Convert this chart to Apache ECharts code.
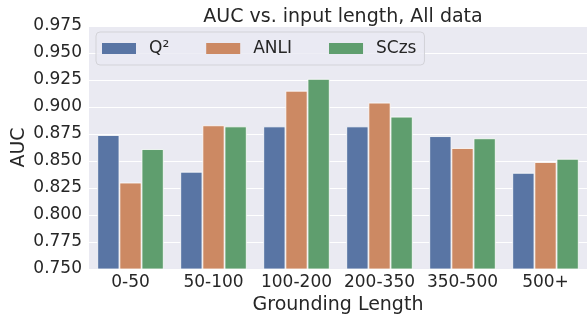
<!DOCTYPE html>
<html>
<head>
<meta charset="utf-8">
<script src="https://cdn.jsdelivr.net/npm/echarts@6/dist/echarts.min.js"></script>
<style>
  html, body { margin: 0; padding: 0; background: #fff; }
  #chart { width: 587px; height: 314px; }
</style>
</head>
<body>
<div id="chart"></div>
<script>
// data
var categories = ['0-50', '50-100', '100-200', '200-350', '350-500', '500+'];
var q2 = [0.874, 0.840, 0.882, 0.882, 0.873, 0.839];
var anli = [0.830, 0.883, 0.915, 0.904, 0.862, 0.849];
var sczs = [0.861, 0.882, 0.926, 0.891, 0.871, 0.852];

var textColor = '#262626';
var font = 'DejaVu Sans';

var bar = function(name, data, color) {
  return {
    name: name,
    type: 'bar',
    data: data,
    barGap: '0%',
    barCategoryGap: '20%',
    itemStyle: { color: color, borderColor: '#ffffff', borderWidth: 0.8 }
  };
};

var myChart = echarts.init(document.getElementById('chart'));
var option = {
  animation: false,
  backgroundColor: '#ffffff',
  textStyle: { fontFamily: font, color: textColor },
  title: {
    text: 'AUC vs. input length, All data',
    left: 338,
    textAlign: 'center',
    top: 3,
    textStyle: { fontFamily: font, fontSize: 19, fontWeight: 'normal', color: textColor }
  },
  legend: {
    left: 96,
    top: 32,
    padding: [8, 8, 8, 6],
    icon: 'rect',
    itemWidth: 34,
    itemHeight: 11,
    itemGap: 37,
    itemStyle: { borderWidth: 0 },
    backgroundColor: 'rgba(234,234,242,0.8)',
    borderColor: '#d3d3d8',
    borderWidth: 1,
    borderRadius: 4,
    textStyle: { fontFamily: font, fontSize: 17, color: textColor, padding: [0, 0, 0, 8] },
    data: ['Q²', 'ANLI', 'SCzs']
  },
  grid: {
    left: 89, right: 0, top: 26, bottom: 45,
    outerBoundsMode: 'none', containLabel: false,
    show: true, backgroundColor: '#EAEAF2', borderWidth: 0
  },
  xAxis: {
    type: 'category',
    data: categories,
    name: 'Grounding Length',
    nameLocation: 'middle',
    nameGap: 27,
    nameMoveOverlap: false,
    nameTextStyle: { fontFamily: font, fontSize: 19, color: textColor },
    axisLine: { show: false },
    axisTick: { show: false },
    axisLabel: { interval: 0, fontFamily: font, fontSize: 17, color: textColor, margin: 5 },
    splitLine: { show: false }
  },
  yAxis: {
    type: 'value',
    min: 0.75,
    max: 0.975,
    interval: 0.025,
    name: 'AUC',
    nameLocation: 'middle',
    nameGap: 60,
    nameMoveOverlap: false,
    nameTextStyle: { fontFamily: font, fontSize: 19, color: textColor },
    axisLine: { show: false },
    axisTick: { show: false },
    axisLabel: {
      fontFamily: font, fontSize: 17, color: textColor, margin: 7,
      formatter: function(v) { return v.toFixed(3); }
    },
    splitLine: { lineStyle: { color: '#ffffff', width: 1.2 } }
  },
  series: [
    bar('Q²', q2, '#5975a4'),
    bar('ANLI', anli, '#cc8963'),
    bar('SCzs', sczs, '#5f9e6e')
  ]
};
myChart.setOption(option);
</script>
</body>
</html>
